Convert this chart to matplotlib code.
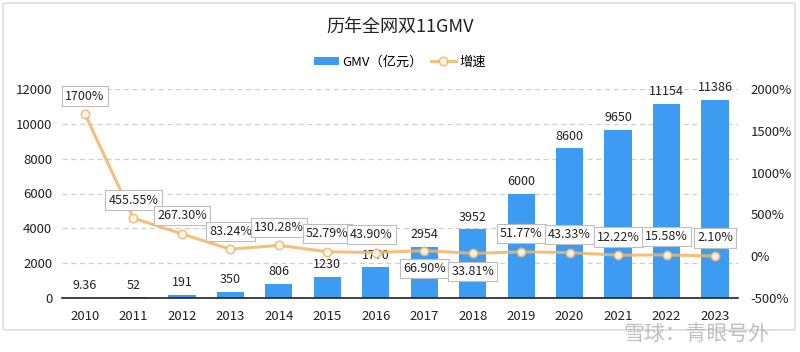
import numpy as np
import matplotlib.pyplot as plt
from matplotlib.patches import FancyBboxPatch

plt.rcParams['font.family'] = ['Noto Sans CJK SC', 'DejaVu Sans']

years = ['2010', '2011', '2012', '2013', '2014', '2015', '2016',
         '2017', '2018', '2019', '2020', '2021', '2022', '2023']
gmv = [9.36, 52, 191, 350, 806, 1230, 1770, 2954, 3952, 6000, 8600, 9650, 11154, 11386]
gmv_labels = ['9.36', '52', '191', '350', '806', '1230', '1770', '2954', '3952',
              '6000', '8600', '9650', '11154', '11386']
growth = [1700, 455.55, 267.30, 83.24, 130.28, 52.79, 43.90, 66.90, 33.81,
          51.77, 43.33, 12.22, 15.58, 2.10]
growth_labels = ['1700%', '455.55%', '267.30%', '83.24%', '130.28%', '52.79%', '43.90%',
                 '66.90%', '33.81%', '51.77%', '43.33%', '12.22%', '15.58%', '2.10%']

bar_color = '#3d9cf2'
line_color = '#f3b463'
text_color = '#222222'

fig = plt.figure(figsize=(8, 3.52), dpi=100)
border = FancyBboxPatch((3 / 800, 22 / 352), 792 / 800, 327 / 352,
                        boxstyle='round,pad=0,rounding_size=0.005',
                        transform=fig.transFigure, fc='white',
                        ec='#dcdcdc', lw=1.2, zorder=-5)
fig.patches.append(border)

ax = fig.add_axes([62 / 800, 1 - 298 / 352, 676 / 800, 209 / 352])
ax.set_facecolor('none')
x = np.arange(len(years))

bars = ax.bar(x, gmv, width=0.56, color=bar_color, label='GMV（亿元）', zorder=2)
ax.set_ylim(0, 12000)
ax.set_yticks(np.arange(0, 12001, 2000))
ax.set_xlim(-0.475, len(years) - 0.525)
ax.set_xticks(x)
ax.set_xticklabels(years)
ax.grid(axis='y', linestyle=(0, (4, 3)), color='#cfcfcf', lw=0.9, zorder=0)
for s in ['top', 'right', 'left']:
    ax.spines[s].set_visible(False)
ax.spines['bottom'].set_color('#222222')
ax.spines['bottom'].set_linewidth(1.2)
ax.tick_params(length=0, labelsize=9.5, colors=text_color, pad=7)
ax.tick_params(axis='x', pad=9)

for xi, v, lab in zip(x, gmv, gmv_labels):
    ax.annotate(lab, (xi, v), xytext=(0, 4), textcoords='offset points',
                ha='center', va='bottom', fontsize=9, color=text_color, zorder=5)

ax2 = ax.twinx()
ax2.set_ylim(-500, 2000)
ax2.set_yticks(np.arange(-500, 2001, 500))
ax2.set_yticklabels([f'{int(t)}%' for t in np.arange(-500, 2001, 500)])
for s in ax2.spines.values():
    s.set_visible(False)
ax2.tick_params(length=0, labelsize=9.5, colors=text_color, pad=9)

line, = ax2.plot(x, growth, color=line_color, lw=2.2, alpha=0.85, marker='o',
                 markersize=6, markerfacecolor='white', markeredgecolor=line_color,
                 markeredgewidth=1.2, label='增速', zorder=3)

below = {7, 8}
for i, (xi, v, lab) in enumerate(zip(x, growth, growth_labels)):
    dy = -13 if i in below else 13
    dx = -3 if i == 6 else 0
    ax2.annotate(lab, (xi, v), xytext=(dx, dy), textcoords='offset points',
                 ha='center', va='center', fontsize=9, color=text_color,
                 bbox=dict(boxstyle='square,pad=0.25', fc='white', ec='#bdbdbd', lw=0.8),
                 zorder=6)

fig.text(0.5, 1 - 27 / 352, '历年全网双11GMV', ha='center', va='center',
         fontsize=13, color=text_color)
fig.legend(handles=[bars, line], loc='center', bbox_to_anchor=(0.5, 1 - 62 / 352),
           ncol=2, frameon=False, fontsize=9.5, handlelength=1.9, handleheight=0.5,
           columnspacing=0.6, handletextpad=0.25)

# watermark, nudged down so it clears the year labels
fig.text(0.871, 1 - 334 / 352, '雪球：青眼号外', ha='center', va='center',
         fontsize=15, color='#b0b0b0', alpha=0.8)

fig.savefig('out.png', dpi=100, facecolor='white')
